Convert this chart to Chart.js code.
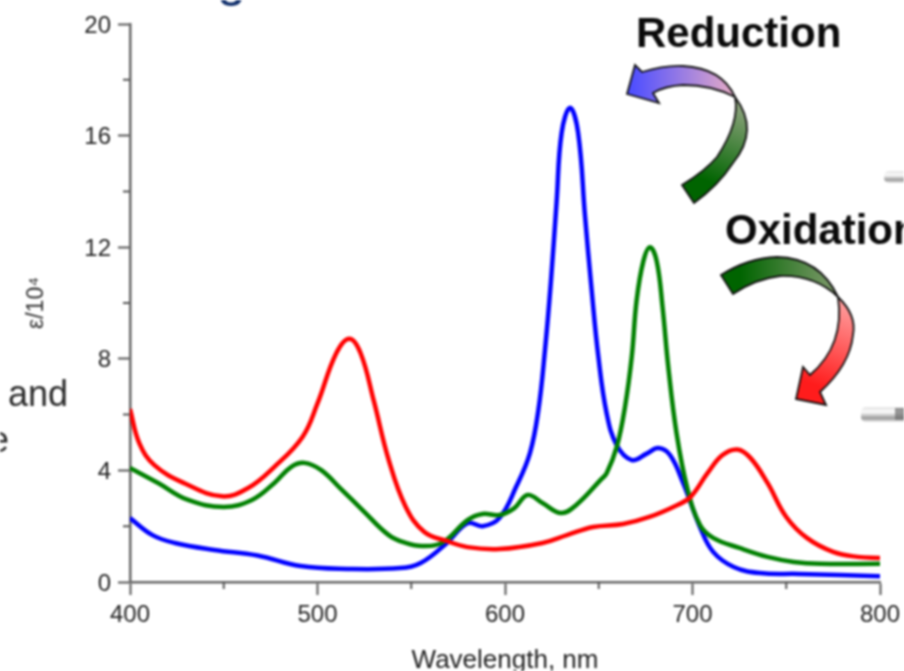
<!DOCTYPE html>
<html>
<head>
<meta charset="utf-8">
<title>Absorption spectra</title>
<script src="https://cdn.jsdelivr.net/npm/chart.js@4"></script>
<style>
    html, body { margin: 0; padding: 0; background: #fff; overflow: hidden; }
    canvas { display: block; filter: blur(0.8px); }
</style>
</head>
<body>
<canvas id="spectraChart" width="904" height="671"></canvas>
<script>
// values: wavelength in nm, epsilon / 10^4
const redWavelengths = [400, 405, 413, 429, 449, 463, 477, 492, 500, 510, 517, 523, 530, 538, 547, 557, 569, 580, 597, 620, 633, 647, 663, 677, 692, 699, 708, 716, 724, 731, 740, 750, 761, 775, 788, 800];
const redValues = [6.2, 4.97, 4.19, 3.54, 3.07, 3.37, 4.13, 5.2, 6.4, 8.2, 8.72, 8.2, 6.5, 4.37, 2.7, 1.79, 1.47, 1.25, 1.18, 1.4, 1.68, 1.97, 2.08, 2.33, 2.76, 3.05, 3.9, 4.55, 4.75, 4.44, 3.55, 2.33, 1.58, 1.08, 0.9, 0.86];

const greenWavelengths = [400, 415, 431, 450, 465, 477, 486, 493, 502, 513, 524, 538, 547, 556, 567, 580, 588, 597, 605, 612, 620, 630, 638, 651, 654.2, 659.6, 664, 667.6, 670.2, 673.8, 677.3, 680.9, 684, 687.1, 691.5, 697.2, 704, 711, 725, 740, 754, 768, 800];
const greenValues = [4.09, 3.55, 2.94, 2.69, 2.94, 3.55, 4.13, 4.27, 4.01, 3.3, 2.58, 1.68, 1.4, 1.29, 1.43, 2.22, 2.44, 2.4, 2.65, 3.12, 2.83, 2.47, 2.76, 3.66, 3.9, 4.84, 6.28, 8.07, 10.1, 11.5, 12, 11.5, 9.87, 7.7, 5.33, 3.37, 2.04, 1.58, 1.22, 0.9, 0.72, 0.65, 0.65];

const blueWavelengths = [400, 412, 424, 445, 468, 491, 516, 544, 555, 569, 580, 588, 597, 606, 613.3, 617.8, 621.3, 624.4, 627.5, 630.2, 634.7, 639, 642.7, 646.2, 649.8, 654.2, 659.6, 667.6, 675.6, 681.8, 688, 695, 704, 711, 722, 736, 757, 800];
const blueValues = [2.29, 1.68, 1.4, 1.15, 0.95, 0.57, 0.47, 0.5, 0.68, 1.4, 2.11, 2, 2.29, 3.42, 4.62, 6.16, 8.3, 10.7, 13.6, 16.1, 17, 16.1, 13.1, 10.47, 8.07, 6.05, 4.9, 4.37, 4.6, 4.8, 4.55, 3.55, 1.97, 1.08, 0.54, 0.32, 0.29, 0.21];

const toPoints = (xs, ys) => xs.map((x, i) => ({ x: x, y: ys[i] }));

const traceLine = (ctx, pts) => {
    ctx.beginPath();
    ctx.moveTo(pts[0][0], pts[0][1]);
    for (const p of pts.slice(1)) {
        if (p.length === 4) ctx.quadraticCurveTo(p[0], p[1], p[2], p[3]);
        else ctx.lineTo(p[0], p[1]);
    }
    ctx.closePath();
};

const fillShape = (ctx, pts, from, to) => {
    const grad = ctx.createLinearGradient(from[0], from[1], to[0], to[1]);
    grad.addColorStop(0, from[2]);
    grad.addColorStop(1, to[2]);
    traceLine(ctx, pts);
    ctx.fillStyle = grad;
    ctx.fill();
    ctx.lineWidth = 1.8;
    ctx.strokeStyle = '#111';
    ctx.stroke();
};

const drawRod = (ctx, x, y, w, h) => {
    const grad = ctx.createLinearGradient(0, y, 0, y + h);
    grad.addColorStop(0, '#e4e4e4');
    grad.addColorStop(0.35, '#fbfbfb');
    grad.addColorStop(0.75, '#999');
    grad.addColorStop(1, '#eee');
    ctx.fillStyle = grad;
    ctx.beginPath();
    ctx.roundRect(x, y, w, h, 5);
    ctx.fill();
};

// minor ticks are shorter than major ones, chart.js has only one tickLength
const minorTicks = {
    id: 'minorTicks',
    afterDraw(chart) {
        const ctx = chart.ctx;
        ctx.save();
        ctx.strokeStyle = '#555';
        ctx.lineWidth = 2;
        ctx.beginPath();
        chart.scales.x.ticks.forEach((t) => {
            if (t.value % 100 !== 0) {
                const px = chart.scales.x.getPixelForValue(t.value);
                ctx.moveTo(px, chart.scales.x.top);
                ctx.lineTo(px, chart.scales.x.top + 7);
            }
        });
        chart.scales.y.ticks.forEach((t) => {
            if (t.value % 4 !== 0) {
                const py = chart.scales.y.getPixelForValue(t.value);
                ctx.moveTo(chart.scales.y.right, py);
                ctx.lineTo(chart.scales.y.right - 7, py);
            }
        });
        ctx.stroke();
        ctx.restore();
    }
};

// labels, arrows and cropped leftovers of the surrounding figure
const annotations = {
    id: 'annotations',
    afterDraw(chart) {
        const ctx = chart.ctx;
        ctx.save();
        ctx.textBaseline = 'alphabetic';
        ctx.textAlign = 'left';

        ctx.fillStyle = '#0a0a0a';
        ctx.font = 'bold 42px "Liberation Sans"';
        ctx.fillText('Reduction', 636, 47);
        ctx.fillText('Oxidation', 725, 244);

        ctx.fillStyle = '#2a2a2a';
        ctx.font = '36px "Liberation Sans"';
        ctx.fillText('and', 8, 406);
        ctx.fillText('e', -11, 452);

        ctx.fillStyle = '#0f2e6b';
        ctx.font = '52px "Liberation Sans"';
        ctx.fillText('g', 217, -5);

        // reduction arrow
        fillShape(ctx, [[735, 97], [760, 130, 733, 163], [718, 186, 694, 203], [682, 185], [705, 171, 717, 157], [740, 122, 735, 97]],
            [735, 105, '#8aa27a'], [705, 180, '#006400']);
        fillShape(ctx, [[627, 94], [635, 65], [642, 72], [665, 65, 683, 66], [722, 68, 735, 97], [712, 85, 683, 85], [665, 86, 653, 93], [659, 103]],
            [632, 85, '#4f4fff'], [730, 85, '#e0a8c8']);

        // oxidation arrow
        fillShape(ctx, [[721, 275], [748, 258, 777, 257], [820, 258, 838, 297], [815, 275, 780, 276], [755, 279, 733, 294]],
            [740, 285, '#006400'], [835, 285, '#7f9a6c']);
        fillShape(ctx, [[838, 297], [857, 315, 853, 335], [850, 365, 820, 392], [826, 405], [796, 399], [803, 367], [810, 375], [845, 345, 838, 297]],
            [845, 305, '#ff9a9a'], [815, 385, '#ff1c1c']);

        drawRod(ctx, 884, 171, 40, 12);
        drawRod(ctx, 861, 407, 60, 15);
        ctx.fillStyle = 'rgba(110, 110, 110, 0.7)';
        ctx.fillRect(895, 408, 9, 12);
        ctx.restore();
    }
};

new Chart(document.getElementById('spectraChart').getContext('2d'), {
    type: 'line',
    data: {
        datasets: [
            { label: 'Oxidized', data: toPoints(redWavelengths, redValues), borderColor: '#ff0000' },
            { label: 'Neutral', data: toPoints(greenWavelengths, greenValues), borderColor: '#008000' },
            { label: 'Reduced', data: toPoints(blueWavelengths, blueValues), borderColor: '#0000ff' }
        ]
    },
    options: {
        responsive: false,
        animation: false,
        layout: { autoPadding: false, padding: { top: 24, right: 24, left: 0, bottom: 0 } },
        elements: {
            point: { radius: 0 },
            line: { borderWidth: 4.5, tension: 0.4, borderCapStyle: 'butt' }
        },
        plugins: { legend: { display: false }, tooltip: { enabled: false } },
        scales: {
            x: {
                type: 'linear',
                min: 400,
                max: 800,
                // the 800 label may hang past the plot, do not let it shrink the axis
                afterFit: (scale) => { scale.height = 89; scale.paddingRight = 0; scale.paddingLeft = 0; },
                border: { color: '#666', width: 2.5 },
                grid: {
                    drawOnChartArea: false,
                    tickLength: 13,
                    tickWidth: 2,
                    tickColor: (c) => (c.tick && c.tick.value % 100 === 0 ? '#555' : 'transparent')
                },
                ticks: {
                    stepSize: 50,
                    autoSkip: false,
                    maxRotation: 0,
                    padding: 6,
                    color: '#222',
                    font: { family: 'Liberation Sans', size: 24 },
                    callback: (v) => (v % 100 === 0 ? String(v) : '')
                },
                title: {
                    display: true,
                    text: 'Wavelength, nm',
                    color: '#222',
                    font: { family: 'Liberation Sans', size: 26, lineHeight: 1 },
                    padding: { top: 0, bottom: -3 }
                }
            },
            y: {
                min: 0,
                max: 20,
                afterFit: (scale) => { scale.width = 130; },
                border: { color: '#666', width: 2.5 },
                grid: {
                    drawOnChartArea: false,
                    tickLength: 12,
                    tickWidth: 2,
                    tickColor: (c) => (c.tick && c.tick.value % 4 === 0 ? '#555' : 'transparent')
                },
                ticks: {
                    stepSize: 2,
                    autoSkip: false,
                    padding: 7,
                    color: '#222',
                    // empty first line + small line height nudges the label 2px down
                    font: { family: 'Liberation Sans', size: 24, lineHeight: '4px' },
                    callback: (v) => (v % 4 === 0 ? ['', String(v)] : '')
                },
                title: {
                    display: true,
                    text: 'ε/10⁴',
                    color: '#333',
                    font: { family: 'Liberation Sans', size: 23 },
                    padding: { top: 23, bottom: 0 }
                }
            }
        }
    },
    plugins: [minorTicks, annotations]
});
</script>
</body>
</html>
